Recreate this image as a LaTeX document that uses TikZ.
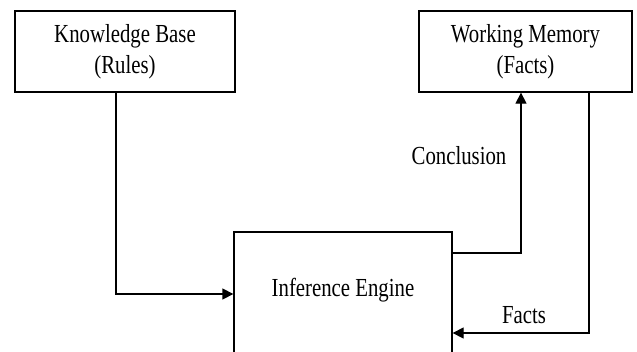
\documentclass[tikz,border=0pt]{standalone}
\usepackage{fontspec}
\setmainfont{Liberation Serif}[FakeStretch=0.8]
\usetikzlibrary{arrows.meta}
\begin{document}
\begin{tikzpicture}[x=1pt,y=-1pt,
  box/.style={draw=black, line width=1.3pt, inner sep=0pt, align=center,
    font=\fontsize{26}{31}\selectfont},
  lbl/.style={inner sep=0pt, font=\fontsize{26}{31}\selectfont},
  arr/.style={draw=black, line width=1.3pt, -{Triangle[length=11pt,width=11pt]}}]
\useasboundingbox[fill=white] (0,0) rectangle (637,351);
\clip (0,0) rectangle (637,351);
\node[box, minimum width=220pt, minimum height=81pt] (kb) at (125,51.5) {Knowledge Base\\(Rules)};
\node[box, minimum width=213pt, minimum height=81pt] (wm) at (525.5,51.5) {Working Memory\\(Facts)};
\node[box, minimum width=218pt, minimum height=160pt] (ie) at (343,312) {};
\node[lbl] (ielbl) at (343,290) {Inference Engine};
\coordinate (k1) at (0,294);
\coordinate (c1) at (0,253);
\coordinate (c2) at (521,0);
\coordinate (f1) at (589,0);
\coordinate (f2) at (0,333);
\draw[arr] ([xshift=-9pt]kb.south) |- (ie.west |- k1);
\draw[arr] (ie.east |- c1) -| (wm.south -| c2);
\draw[arr] (wm.south -| f1) |- (ie.east |- f2);
\node[lbl] (concl) at (459,156) {Conclusion};
\node[lbl] (facts) at (524,315) {Facts};
\end{tikzpicture}
\end{document}
